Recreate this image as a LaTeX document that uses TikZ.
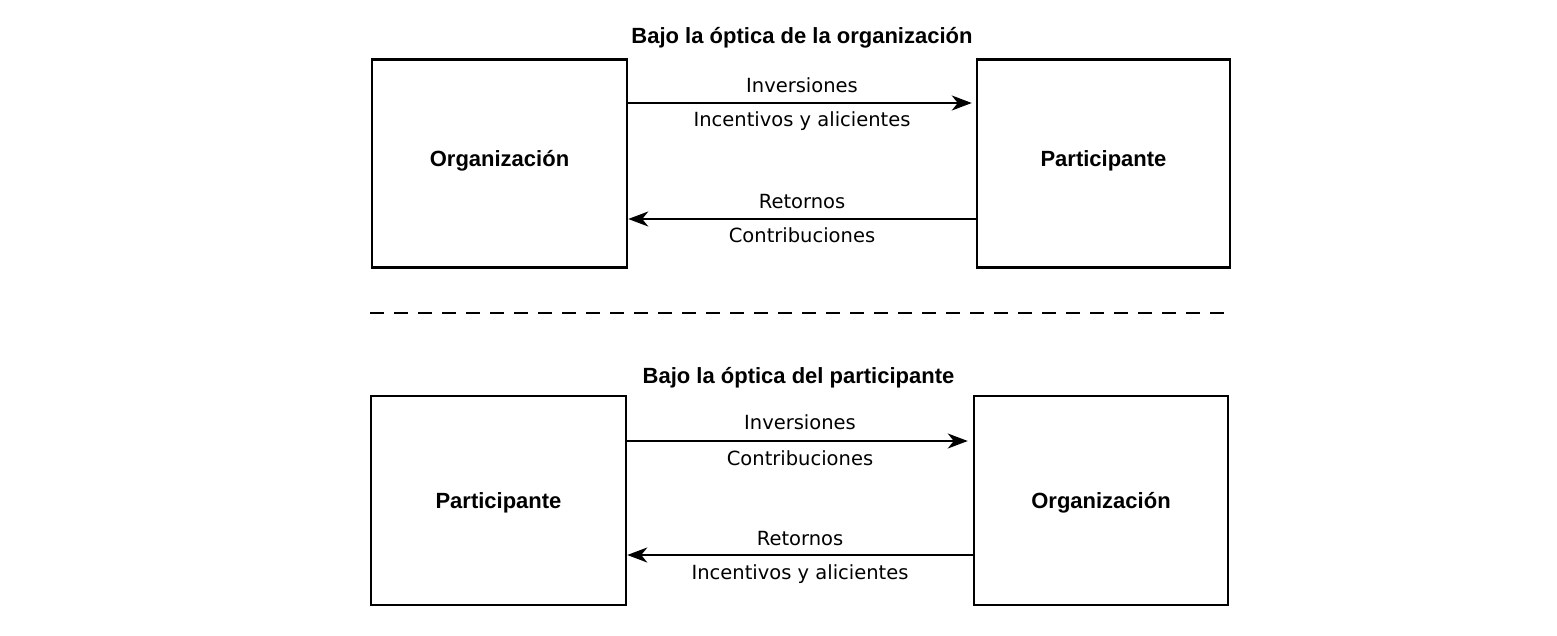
\documentclass[tikz,border=0pt]{standalone}
\usepackage{fontspec}
\setmainfont{DejaVu Sans}
\newfontfamily\hfont{Liberation Sans}
\usetikzlibrary{arrows.meta}
\begin{document}
\begin{tikzpicture}[x=1pt,y=-1pt,
  box/.style={draw, line width=2.5pt, minimum width=255pt, minimum height=208pt, inner sep=0pt,
    text height=15pt, text depth=8pt, font=\hfont\bfseries\fontsize{22}{24}\selectfont},
  flow/.style={line width=1.8pt, -{Stealth[length=20pt,width=15pt,inset=6pt]}},
  lab/.style={font=\fontsize{19.5}{22}\selectfont, anchor=base, inner sep=0pt},
  ttl/.style={font=\hfont\bfseries\fontsize{22}{24}\selectfont, anchor=base, inner sep=0pt},
  sep/.style={line width=2pt, dash pattern=on 14pt off 10pt}]
\useasboundingbox (0,0) rectangle (1557,636);
% titles
\node[ttl] (t1) at (802,44) {Bajo la óptica de la organización};
\node[ttl] (t2) at (798.5,383) {Bajo la óptica del participante};
% top boxes
\node[box] (o1) at (499.5,163.5) {Organización};
\node[box, minimum width=253pt] (p1) at (1103.5,163.5) {Participante};
% bottom boxes
\node[box, minimum height=209pt, text depth=0pt] (p2) at (498.5,500.5) {Participante};
\node[box, minimum width=254pt, minimum height=209pt, text depth=0pt] (o2) at (1101,500.5) {Organización};
% top arrows
\draw[flow, shorten >=4pt] (o1.east |- 0,103) -- (p1.west |- 0,103)
  node[lab, midway, yshift=10pt] {Inversiones}
  node[lab, midway, yshift=-24pt] {Incentivos y alicientes};
\draw[flow] (p1.west |- 0,219) -- (o1.east |- 0,219)
  node[lab, midway, yshift=10pt] {Retornos}
  node[lab, midway, yshift=-24pt] {Contribuciones};
% separator
\coordinate (d1) at (370,313);
\coordinate (d2) at (1231,313);
\draw[sep] (d1) -- (d2);
% bottom arrows
\draw[flow, shorten >=5pt] (p2.east |- 0,441) -- (o2.west |- 0,441)
  node[lab, midway, yshift=12pt] {Inversiones}
  node[lab, midway, yshift=-24pt] {Contribuciones};
\draw[flow] (o2.west |- 0,555) -- (p2.east |- 0,555)
  node[lab, midway, yshift=10pt] {Retornos}
  node[lab, midway, yshift=-24pt] {Incentivos y alicientes};
\end{tikzpicture}
\end{document}
